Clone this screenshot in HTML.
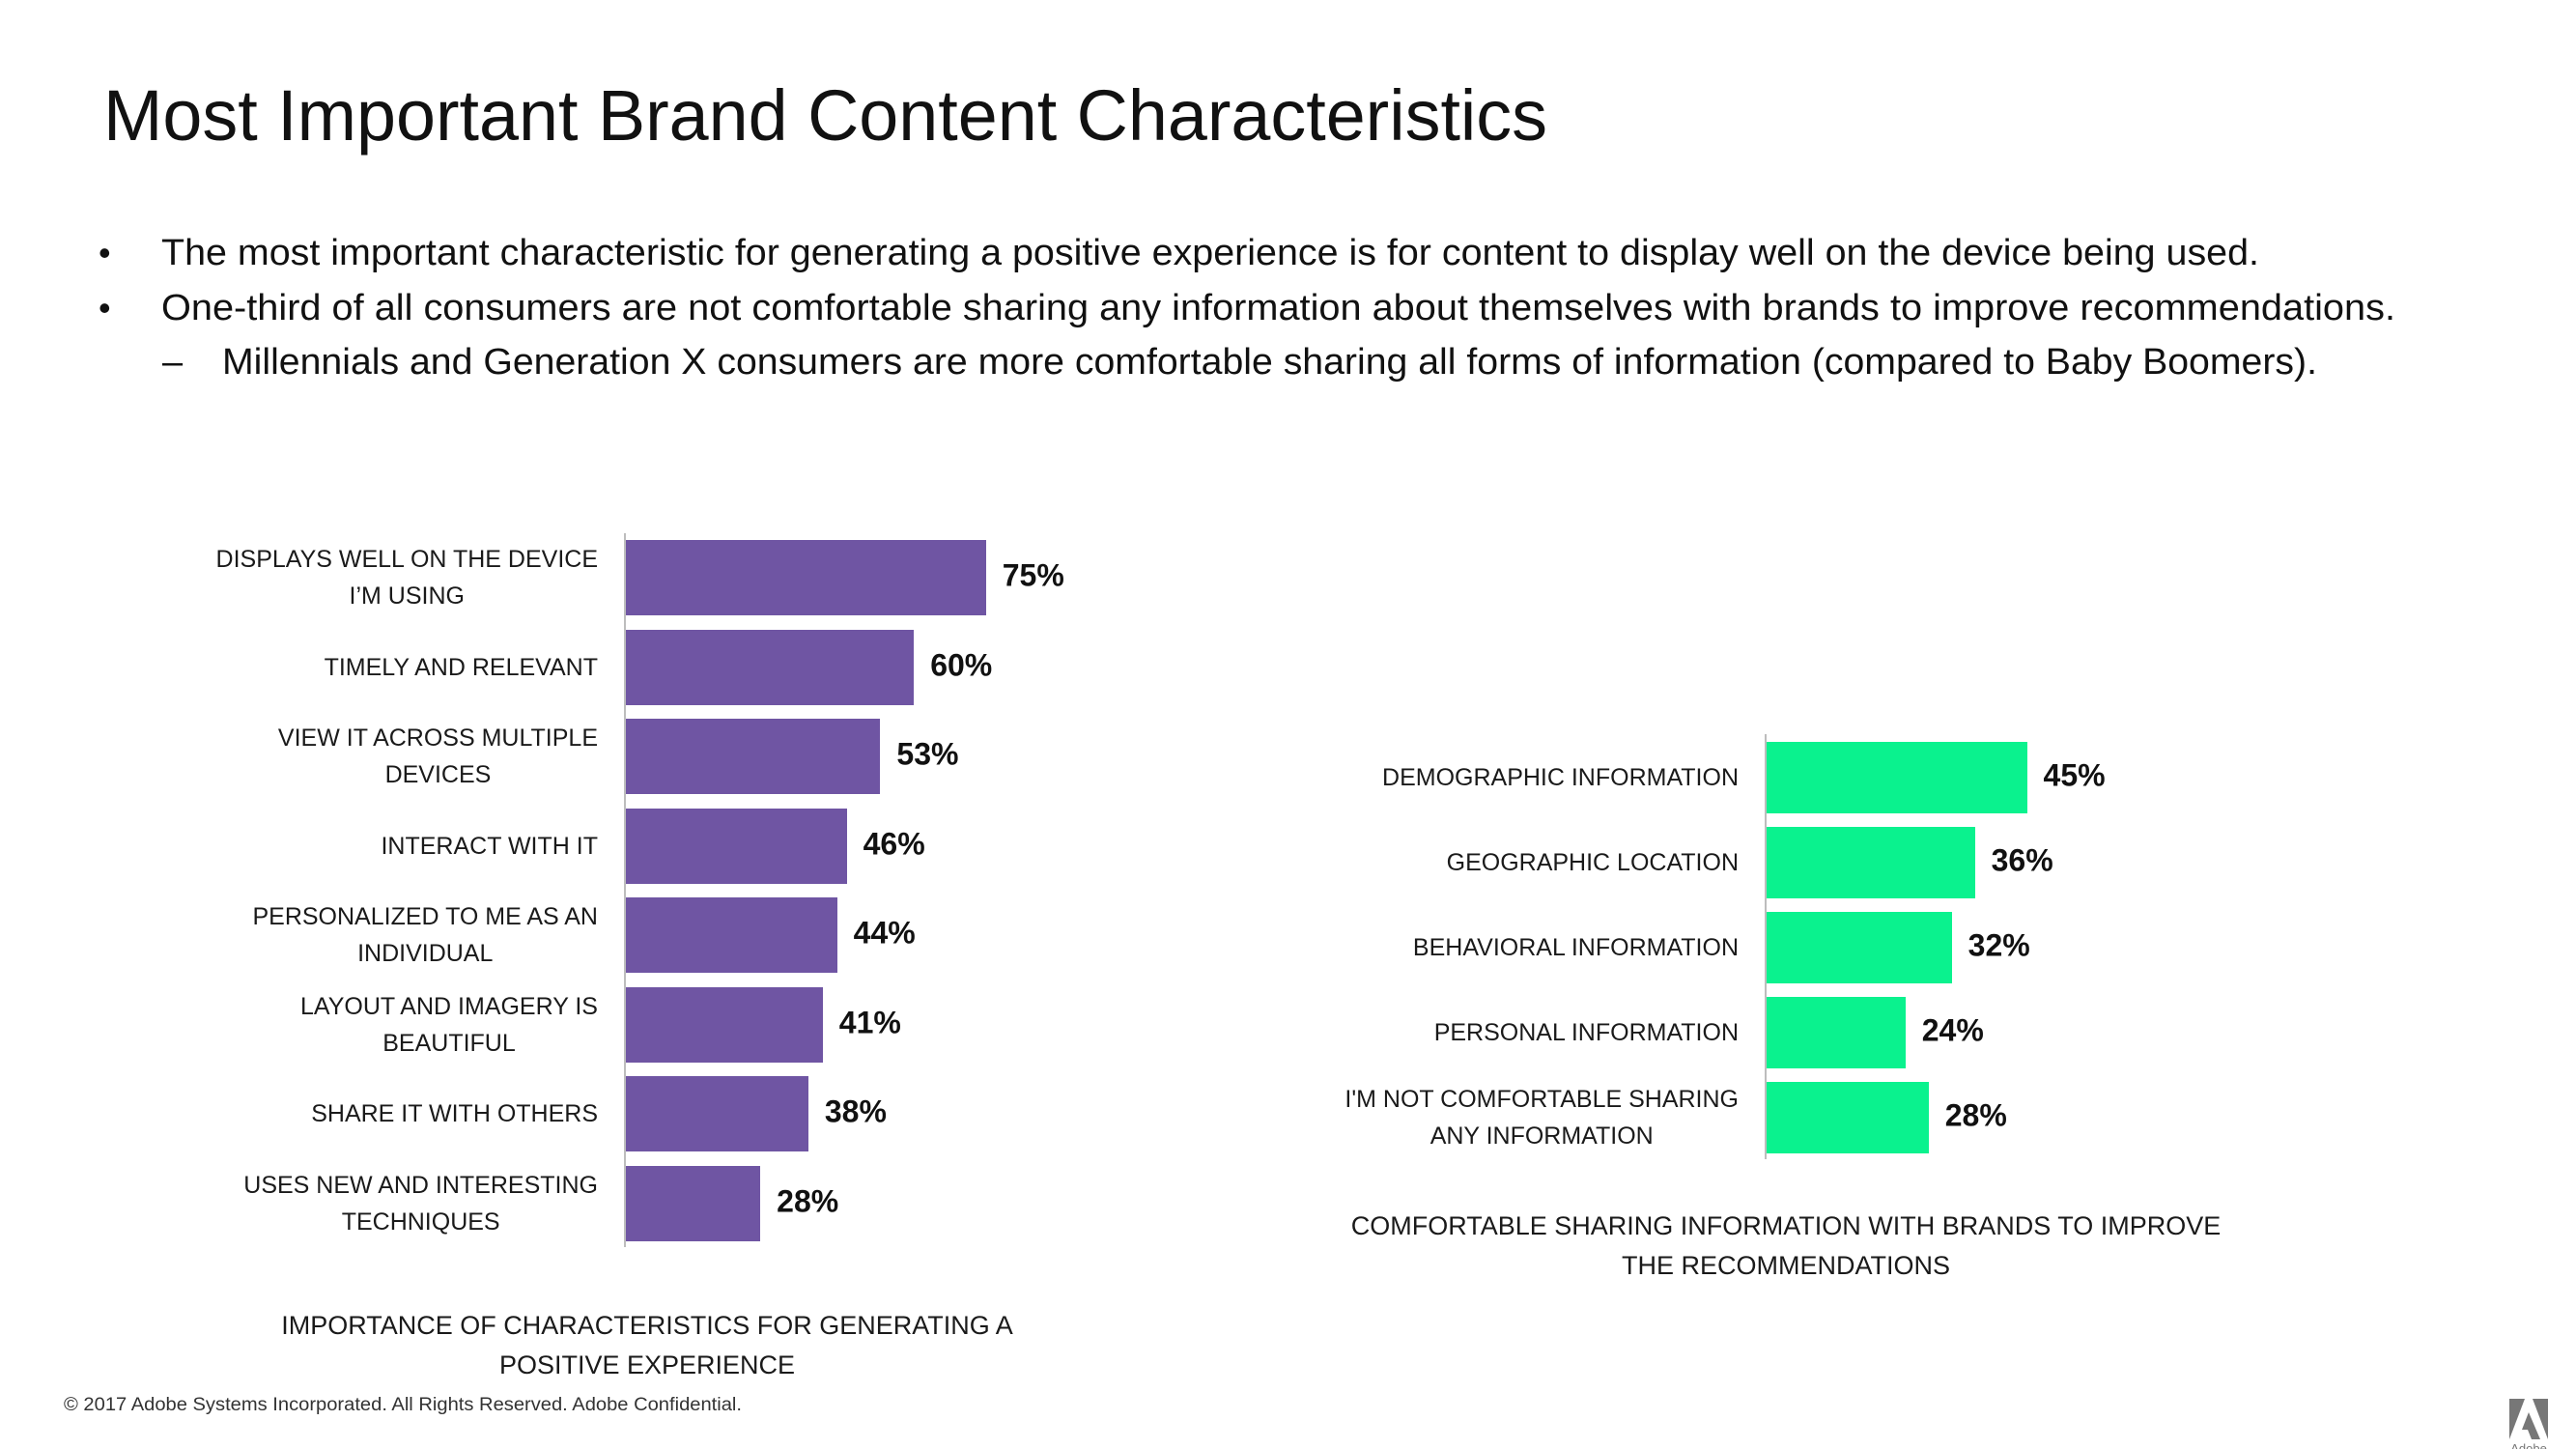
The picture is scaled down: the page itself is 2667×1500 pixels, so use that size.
<!DOCTYPE html>
<html><head><meta charset="utf-8">
<style>
html,body{margin:0;padding:0;background:#fff;}
#page{position:relative;width:2667px;height:1500px;overflow:hidden;background:#fff;font-family:"Liberation Sans",sans-serif;color:#111;}
.lbl{position:absolute;text-align:center;white-space:nowrap;font-size:25px;line-height:38px;color:#1a1a1a;transform:translateY(-50%);}
.val{position:absolute;font-weight:bold;font-size:32px;color:#111;transform:translateY(-50%);white-space:nowrap;}
.bar{position:absolute;}
.axis{position:absolute;width:2px;background:#bdbdbd;}
.cap{position:absolute;text-align:center;white-space:nowrap;font-size:27px;line-height:41px;color:#1a1a1a;transform:translateX(-50%);}
</style></head>
<body>
<div id="page">
<svg width="2667" height="1500" style="position:absolute;left:0;top:0">
  <text x="107" y="145" font-size="74" textLength="1495" lengthAdjust="spacingAndGlyphs" fill="#111">Most Important Brand Content Characteristics</text>
  <text x="102" y="274" font-size="36" fill="#111">•</text>
  <text x="167" y="274" font-size="38" textLength="2172" lengthAdjust="spacingAndGlyphs" fill="#111">The most important characteristic for generating a positive experience is for content to display well on the device being used.</text>
  <text x="102" y="331" font-size="36" fill="#111">•</text>
  <text x="167" y="331" font-size="38" textLength="2313" lengthAdjust="spacingAndGlyphs" fill="#111">One-third of all consumers are not comfortable sharing any information about themselves with brands to improve recommendations.</text>
  <text x="168" y="387" font-size="38" fill="#111">–</text>
  <text x="230" y="387" font-size="38" textLength="2169" lengthAdjust="spacingAndGlyphs" fill="#111">Millennials and Generation X consumers are more comfortable sharing all forms of information (compared to Baby Boomers).</text>
  <text x="66" y="1460" font-size="19" textLength="702" lengthAdjust="spacingAndGlyphs" fill="#333">© 2017 Adobe Systems Incorporated.  All Rights Reserved.  Adobe Confidential.</text>
  <g>
    <polygon points="2598,1448 2614,1448 2598,1490" fill="#777"/>
    <polygon points="2622,1448 2638,1448 2638,1490" fill="#777"/>
    <polygon points="2618,1462 2630,1490 2621,1490 2617,1480 2611,1480" fill="#777"/>
    <text x="2618" y="1504" font-size="13" text-anchor="middle" fill="#777">Adobe</text>
  </g>
</svg>

<div class="cap" style="left:670px;top:1352px">IMPORTANCE OF CHARACTERISTICS FOR GENERATING A<br>POSITIVE EXPERIENCE</div>
<div class="cap" style="left:1849px;top:1249px">COMFORTABLE SHARING INFORMATION WITH BRANDS TO IMPROVE<br>THE RECOMMENDATIONS</div>
</div>

<script>
// Left chart data
const leftCategories = ["DISPLAYS WELL ON THE DEVICE<br>I’M USING","TIMELY AND RELEVANT","VIEW IT ACROSS MULTIPLE<br>DEVICES","INTERACT WITH IT","PERSONALIZED TO ME AS AN<br>INDIVIDUAL","LAYOUT AND IMAGERY IS<br>BEAUTIFUL","SHARE IT WITH OTHERS","USES NEW AND INTERESTING<br>TECHNIQUES"];
const leftValues = [75,60,53,46,44,41,38,28];
const leftLabels = ["75%","60%","53%","46%","44%","41%","38%","28%"];
// Right chart data
const rightCategories = ["DEMOGRAPHIC INFORMATION","GEOGRAPHIC LOCATION","BEHAVIORAL INFORMATION","PERSONAL INFORMATION","I'M NOT COMFORTABLE SHARING<br>ANY INFORMATION"];
const rightValues = [45,36,32,24,28];
const rightLabels = ["45%","36%","32%","24%","28%"];

const page = document.getElementById('page');

function drawChart(prefix, cats, vals, labels, cfg){
  const xScale = v => cfg.x0 + v * cfg.pxPer;
  const yBand = i => cfg.top + i * cfg.pitch;
  const axis = document.createElement('div');
  axis.className = 'axis';
  
  
  axis.style.left = (cfg.x0 - 2) + 'px';
  axis.style.top = cfg.axisTop + 'px';
  axis.style.height = (cfg.axisBottom - cfg.axisTop) + 'px';
  page.appendChild(axis);
  cats.forEach((c, i) => {
    const y = yBand(i);
    const cy = y + cfg.h / 2;
    const b = document.createElement('div');
    b.className = 'bar';
    
    
    b.style.left = cfg.x0 + 'px';
    b.style.top = y + 'px';
    b.style.height = cfg.h + 'px';
    b.style.width = (xScale(vals[i]) - cfg.x0) + 'px';
    b.style.background = cfg.color;
    page.appendChild(b);
    const l = document.createElement('div');
    l.className = 'lbl';
    
    
    l.innerHTML = c;
    l.style.right = (2667 - cfg.labelRight) + 'px';
    l.style.top = cy + 'px';
    page.appendChild(l);
    const v = document.createElement('div');
    v.className = 'val';
    
    
    v.textContent = labels[i];
    v.style.left = (xScale(vals[i]) + 17) + 'px';
    v.style.top = (cy - 2) + 'px';
    page.appendChild(v);
  });
}

drawChart('left', leftCategories, leftValues, leftLabels,
  {x0:648, pxPer:4.97, top:559, pitch:92.5, h:78, axisTop:552, axisBottom:1291, labelRight:619, color:'#6F55A3'});
drawChart('right', rightCategories, rightValues, rightLabels,
  {x0:1829, pxPer:5.99, top:768, pitch:88, h:74, axisTop:760, axisBottom:1200, labelRight:1800, color:'#0AF28E'});
</script>
</body></html>
